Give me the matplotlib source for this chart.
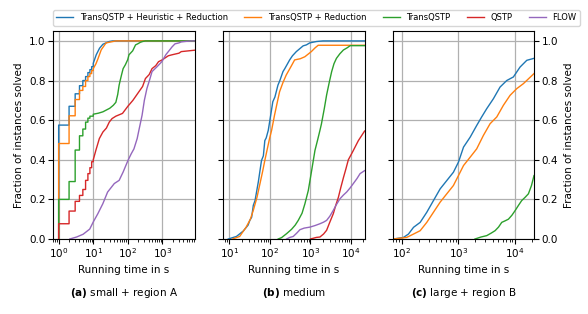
import matplotlib
matplotlib.use("Agg")
import matplotlib.pyplot as plt
import numpy as np

labels = [
    "TransQSTP + Heuristic + Reduction",
    "TransQSTP + Reduction",
    "TransQSTP",
    "QSTP",
    "FLOW",
]
colors = ["#1f77b4", "#ff7f0e", "#2ca02c", "#d62728", "#9467bd"]

# panel (a): small + region A  -- (time in s, fraction solved)
a_heur_t = [1, 1, 2, 3, 4, 5, 6, 7, 8, 9, 10, 12.2, 15.2, 19, 29, 36, 8500]
a_heur_f = [0, 0.575, 0.67, 0.733, 0.774, 0.80, 0.82, 0.84, 0.855, 0.87, 0.887, 0.93, 0.963, 0.983, 0.997, 1.0, 1.0]
a_red_t = [1, 1, 2, 3, 4, 5, 6, 7, 8, 9, 10, 12, 13.7, 17, 23.5, 45, 8500]
a_red_f = [0, 0.482, 0.622, 0.704, 0.75, 0.77, 0.80, 0.82, 0.835, 0.85, 0.86, 0.885, 0.91, 0.955, 0.99, 1.0, 1.0]
a_tq_t = [1, 1, 2, 3, 4, 5, 6, 7, 8, 10, 14, 19, 30, 38, 45, 51, 56, 60, 66, 73, 85, 99, 108, 138, 167, 192, 230, 267, 322, 8500]
a_tq_f = [0, 0.2, 0.29, 0.449, 0.521, 0.555, 0.59, 0.61, 0.62, 0.63, 0.635, 0.642, 0.66, 0.675, 0.69, 0.73, 0.777, 0.80, 0.83, 0.86, 0.88, 0.905, 0.93, 0.95, 0.98, 0.985, 0.993, 0.997, 1.0, 1.0]
a_qstp_t = [1, 1, 2, 3, 4, 5, 6, 7, 8, 9, 10, 12, 15, 19, 24, 29, 35, 45, 70, 100, 140, 208, 267, 322, 413, 500, 640, 770, 1000, 1480, 1900, 3000, 3500, 8500]
a_qstp_f = [0, 0.077, 0.141, 0.19, 0.22, 0.25, 0.296, 0.33, 0.36, 0.39, 0.40, 0.45, 0.507, 0.54, 0.56, 0.59, 0.608, 0.62, 0.634, 0.67, 0.70, 0.743, 0.77, 0.81, 0.83, 0.86, 0.875, 0.895, 0.905, 0.925, 0.93, 0.938, 0.946, 0.953]
a_flow_t = [2.1, 3.3, 5.1, 7.9, 10, 13.6, 18.9, 26, 33, 40.6, 56, 73, 101, 125, 150, 186, 208, 258, 300, 356, 420, 500, 700, 960, 1250, 1480, 1900, 2300, 3000, 3500, 5000, 7000, 8500]
a_flow_f = [0, 0.01, 0.024, 0.05, 0.086, 0.128, 0.178, 0.237, 0.26, 0.28, 0.296, 0.338, 0.397, 0.43, 0.455, 0.507, 0.548, 0.625, 0.70, 0.76, 0.80, 0.845, 0.87, 0.895, 0.93, 0.946, 0.97, 0.985, 0.99, 0.995, 0.998, 1.0, 1.0]

# panel (b): medium
b_heur_t = [9.4, 15, 22, 29, 32, 35.5, 39, 43, 52, 62, 69, 75, 81, 91, 100, 118, 133, 158, 176, 210, 233, 307, 360, 448, 660, 795, 960, 1410, 2040, 21600]
b_heur_f = [0, 0.013, 0.04, 0.07, 0.094, 0.11, 0.17, 0.194, 0.29, 0.396, 0.42, 0.497, 0.51, 0.548, 0.6, 0.693, 0.717, 0.777, 0.80, 0.845, 0.86, 0.904, 0.925, 0.946, 0.975, 0.98, 0.99, 0.997, 1.0, 1.0]
b_red_t = [12, 18, 26, 33, 39, 48, 57, 66, 75, 98, 110, 130, 152, 173, 210, 253, 330, 407, 560, 727, 1050, 1300, 1550, 21600]
b_red_f = [0, 0.013, 0.06, 0.10, 0.145, 0.21, 0.28, 0.34, 0.397, 0.507, 0.548, 0.625, 0.69, 0.743, 0.79, 0.828, 0.87, 0.904, 0.91, 0.92, 0.946, 0.965, 0.978, 0.978]
b_tq_t = [160, 194, 258, 342, 420, 500, 620, 730, 885, 1070, 1290, 1500, 1710, 1860, 2200, 2500, 2900, 3330, 3800, 4370, 5300, 6480, 8000, 9550, 21600]
b_tq_f = [0, 0.007, 0.027, 0.049, 0.07, 0.094, 0.13, 0.178, 0.245, 0.346, 0.447, 0.50, 0.548, 0.58, 0.66, 0.727, 0.79, 0.845, 0.885, 0.912, 0.935, 0.954, 0.965, 0.976, 0.976]
b_qstp_t = [1000, 1400, 1710, 2100, 2500, 3000, 3660, 4200, 4870, 5600, 6500, 7500, 8580, 10000, 11400, 13000, 15200, 18000, 21600]
b_qstp_f = [0, 0.008, 0.01, 0.025, 0.044, 0.085, 0.128, 0.17, 0.21, 0.26, 0.31, 0.355, 0.40, 0.425, 0.447, 0.47, 0.497, 0.52, 0.545]
b_flow_t = [258, 310, 377, 460, 550, 700, 970, 1300, 1710, 2100, 2500, 3000, 3660, 4400, 5330, 6500, 7800, 9500, 11400, 14000, 16700, 21600]
b_flow_f = [0, 0.008, 0.013, 0.03, 0.047, 0.055, 0.06, 0.068, 0.077, 0.085, 0.094, 0.115, 0.145, 0.175, 0.203, 0.222, 0.237, 0.258, 0.28, 0.305, 0.33, 0.345]

# panel (c): large + region B
c_heur_t = [71, 107, 131, 161, 211, 276, 362, 475, 622, 815, 1000, 1230, 1610, 2100, 2570, 3160, 4140, 5430, 7130, 9340, 12250, 16100, 21600]
c_heur_f = [0, 0.008, 0.025, 0.059, 0.084, 0.135, 0.194, 0.253, 0.295, 0.337, 0.388, 0.464, 0.514, 0.573, 0.616, 0.658, 0.708, 0.767, 0.80, 0.818, 0.868, 0.902, 0.912]
c_red_t = [71, 122, 161, 211, 276, 362, 475, 622, 815, 1000, 1230, 1610, 2100, 2760, 3620, 4750, 6220, 8150, 10700, 14000, 21600]
c_red_f = [0, 0.008, 0.025, 0.042, 0.084, 0.135, 0.186, 0.228, 0.27, 0.32, 0.371, 0.413, 0.455, 0.523, 0.582, 0.616, 0.675, 0.725, 0.759, 0.784, 0.835]
c_tq_t = [1960, 2500, 3160, 3800, 4440, 5100, 5820, 6700, 7630, 8800, 10000, 11500, 13100, 15000, 17200, 19500, 21600]
c_tq_f = [0, 0.01, 0.017, 0.03, 0.042, 0.06, 0.084, 0.092, 0.10, 0.12, 0.143, 0.17, 0.194, 0.21, 0.228, 0.27, 0.32]

# last element per series: times up to which the curve has hard (whole-second) steps
panels = [
    ("(a)", "small + region A", (0.7, 8500),
     [(a_heur_t, a_heur_f, 10), (a_red_t, a_red_f, 10), (a_tq_t, a_tq_f, 10),
      (a_qstp_t, a_qstp_f, 10), (a_flow_t, a_flow_f, 0)]),
    ("(b)", "medium", (7.1, 21600),
     [(b_heur_t, b_heur_f, 0), (b_red_t, b_red_f, 0), (b_tq_t, b_tq_f, 0),
      (b_qstp_t, b_qstp_f, 0), (b_flow_t, b_flow_f, 0)]),
    ("(c)", "large + region B", (69, 21600),
     [(c_heur_t, c_heur_f, 0), (c_red_t, c_red_f, 0), (c_tq_t, c_tq_f, 0), None, None]),
]


def stepped(t, f, step_until):
    """Hard steps for the whole-second part, plain line for the rest."""
    xs, ys = [t[0]], [f[0]]
    for k in range(1, len(t)):
        if t[k] <= step_until:
            xs.append(t[k])
            ys.append(f[k - 1])
        xs.append(t[k])
        ys.append(f[k])
    return xs, ys


plt.rcParams["font.family"] = "DejaVu Sans"
fig = plt.figure(figsize=(5.88, 3.14), dpi=100)
fig.patch.set_facecolor("white")

lefts = [53.3 / 588, 223.3 / 588, 392.7 / 588]
width = 141.3 / 588
bottom = 1 - 239 / 314
height = 208 / 314

handles = []
for i, (tag, name, xlim, series) in enumerate(panels):
    ax = fig.add_axes([lefts[i], bottom, width, height])
    for j, s in enumerate(series):
        if s is None:
            continue
        xs, ys = stepped(*s)
        ln, = ax.plot(xs, ys, color=colors[j], lw=1.0, label=labels[j])
        if i == 0:
            handles.append(ln)
    ax.set_xscale("log")
    ax.set_xlim(*xlim)
    ax.set_ylim(0, 1.05)
    ax.set_yticks(np.arange(0, 1.01, 0.2))
    ax.grid(True, which="major", color="#b0b0b0", lw=0.9)
    ax.set_axisbelow(True)
    ax.tick_params(labelsize=7.5, pad=2)
    ax.set_xlabel("Running time in s", fontsize=7.5, labelpad=3)
    if i == 0:
        ax.set_ylabel("Fraction of instances solved", fontsize=7.5)
    elif i == 1:
        ax.tick_params(axis="y", labelleft=False)
    else:
        ax.tick_params(axis="y", labelleft=False, right=True, labelright=True)
        ax.yaxis.set_label_position("right")
        ax.set_ylabel("Fraction of instances solved", fontsize=7.5)
    fig.text(lefts[i] + width / 2, 1 - 293 / 314, rf"$\mathbf{{{tag}}}$ {name}",
             ha="center", va="center", fontsize=7.5)

fig.legend(handles=handles, loc="upper left", bbox_to_anchor=(53 / 588, 1 - 10 / 314),
           ncol=5, fontsize=6, frameon=True, borderaxespad=0)

fig.savefig("out.png", dpi=100)
